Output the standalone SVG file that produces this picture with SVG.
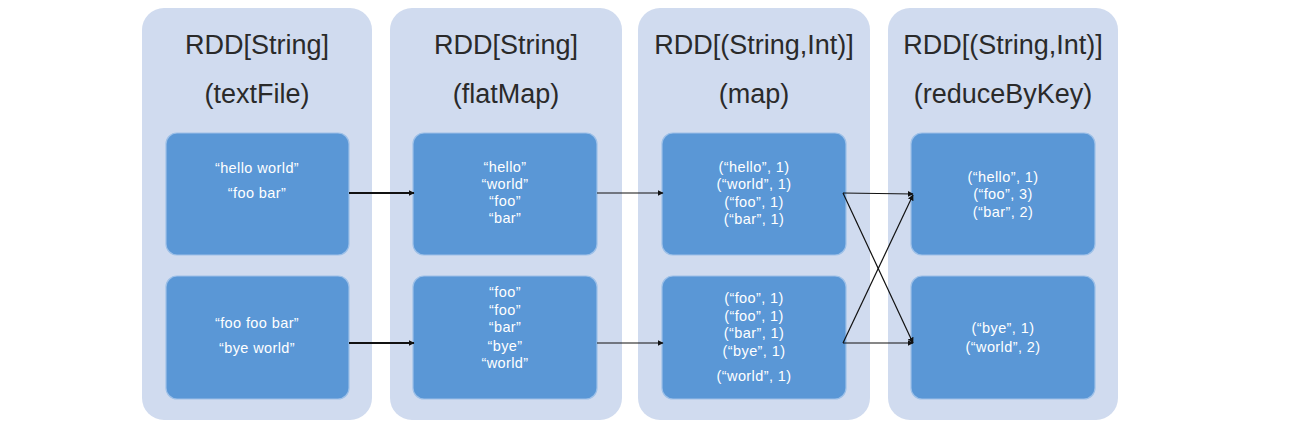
<svg xmlns="http://www.w3.org/2000/svg" width="1299" height="429" viewBox="0 0 1299 429">
<style>
.col{fill:#D0DBEF}
.box{fill:#5A97D6;stroke:#9DC0E8;stroke-width:1.2}
.title{font-family:"Liberation Sans",Arial,sans-serif;font-size:27px;fill:#2A2A2A;text-anchor:middle}
.t{font-family:"Liberation Sans",Arial,sans-serif;font-size:14.5px;letter-spacing:0.4px;fill:#FFFFFF;text-anchor:middle}
.c{stroke:#111;fill:none}
</style>
<defs>
<marker id="ah" viewBox="0 0 10 10" refX="9" refY="5" markerWidth="6" markerHeight="6" markerUnits="userSpaceOnUse" orient="auto">
<path d="M0,0 L10,5 L0,10 z" fill="#111"/>
</marker>
</defs>
<rect width="1299" height="429" fill="#FFFFFF"/>

<g id="col-textFile">
<rect class="col" x="142" y="8" width="230" height="412" rx="22"/>
<text class="title" x="257" y="54">RDD[String]</text>
<text class="title" x="257" y="103">(textFile)</text>
</g>
<g id="col-flatMap">
<rect class="col" x="390" y="8" width="232" height="412" rx="22"/>
<text class="title" x="506" y="54">RDD[String]</text>
<text class="title" x="506" y="103">(flatMap)</text>
</g>
<g id="col-map">
<rect class="col" x="638" y="8" width="232" height="412" rx="22"/>
<text class="title" x="754" y="54">RDD[(String,Int)]</text>
<text class="title" x="754" y="103">(map)</text>
</g>
<g id="col-reduceByKey">
<rect class="col" x="888" y="8" width="230" height="412" rx="22"/>
<text class="title" x="1003" y="54">RDD[(String,Int)]</text>
<text class="title" x="1003" y="103">(reduceByKey)</text>
</g>

<g id="tf1">
<rect class="box" x="166" y="133" width="183" height="122" rx="11"/>
<text class="t" x="257" y="173">“hello world”</text>
<text class="t" x="257" y="198">“foo bar”</text>
</g>
<g id="tf2">
<rect class="box" x="166" y="276" width="183" height="123" rx="11"/>
<text class="t" x="257" y="328">“foo foo bar”</text>
<text class="t" x="257" y="353">“bye world”</text>
</g>
<g id="fm1">
<rect class="box" x="413" y="133" width="184" height="122" rx="11"/>
<text class="t" x="505" y="172">“hello”</text>
<text class="t" x="505" y="189">“world”</text>
<text class="t" x="505" y="206">“foo”</text>
<text class="t" x="505" y="223">“bar”</text>
</g>
<g id="fm2">
<rect class="box" x="413" y="276" width="184" height="123" rx="11"/>
<text class="t" x="505" y="297">“foo”</text>
<text class="t" x="505" y="315">“foo”</text>
<text class="t" x="505" y="332">“bar”</text>
<text class="t" x="505" y="351">“bye”</text>
<text class="t" x="505" y="368">“world”</text>
</g>
<g id="mp1">
<rect class="box" x="662" y="133" width="184" height="122" rx="11"/>
<text class="t" x="754" y="172">(“hello”, 1)</text>
<text class="t" x="754" y="189">(“world”, 1)</text>
<text class="t" x="754" y="207">(“foo”, 1)</text>
<text class="t" x="754" y="224">(“bar”, 1)</text>
</g>
<g id="mp2">
<rect class="box" x="662" y="276" width="184" height="123" rx="11"/>
<text class="t" x="754" y="303">(“foo”, 1)</text>
<text class="t" x="754" y="321">(“foo”, 1)</text>
<text class="t" x="754" y="338">(“bar”, 1)</text>
<text class="t" x="754" y="356">(“bye”, 1)</text>
<text class="t" x="754" y="381">(“world”, 1)</text>
</g>
<g id="rk1">
<rect class="box" x="911" y="133" width="184" height="122" rx="11"/>
<text class="t" x="1003" y="182">(“hello”, 1)</text>
<text class="t" x="1003" y="199">(“foo”, 3)</text>
<text class="t" x="1003" y="217">(“bar”, 2)</text>
</g>
<g id="rk2">
<rect class="box" x="911" y="276" width="184" height="123" rx="11"/>
<text class="t" x="1003" y="333">(“bye”, 1)</text>
<text class="t" x="1003" y="352">(“world”, 2)</text>
</g>

<g id="connectors">
<line class="c" x1="349" y1="193" x2="414" y2="193" stroke-width="2" marker-end="url(#ah)"/>
<line class="c" x1="349" y1="343" x2="414" y2="343" stroke-width="2" marker-end="url(#ah)"/>
<line class="c" x1="597" y1="193" x2="663" y2="193" stroke-width="1.2" marker-end="url(#ah)"/>
<line class="c" x1="597" y1="343" x2="663" y2="343" stroke-width="1.2" marker-end="url(#ah)"/>
<line class="c" x1="843" y1="193" x2="913" y2="194" stroke-width="1.2" marker-end="url(#ah)"/>
<line class="c" x1="843" y1="193" x2="913" y2="343" stroke-width="1.2" marker-end="url(#ah)"/>
<line class="c" x1="843" y1="343" x2="913" y2="343" stroke-width="1.2" marker-end="url(#ah)"/>
<line class="c" x1="843" y1="343" x2="913" y2="195" stroke-width="1.2" marker-end="url(#ah)"/>
</g>
</svg>
